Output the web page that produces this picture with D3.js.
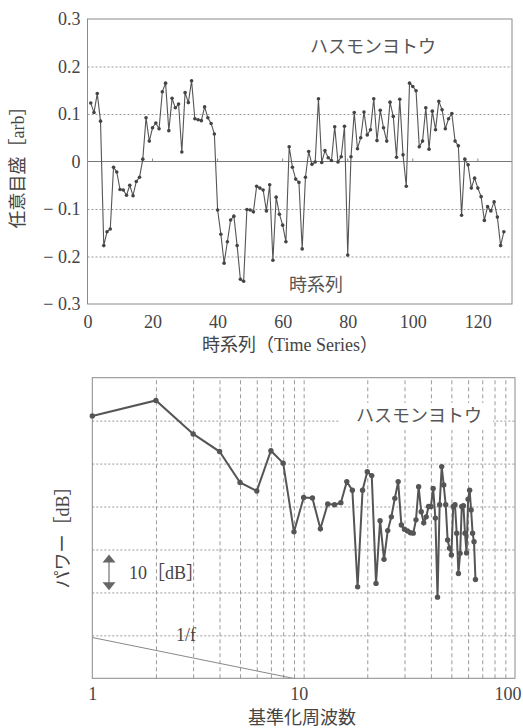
<!DOCTYPE html>
<html>
<head>
<meta charset="utf-8">
<script src="https://cdn.jsdelivr.net/npm/d3@7"></script>
<style>
    body { margin: 0; background: #fff; }
    svg { display: block; }
    text { fill: #444; font-family: "Liberation Serif", "Noto Sans CJK JP", serif; font-size: 18px; }
    .jp { font-family: "Noto Sans CJK JP", sans-serif; fill: #555; }
    .grid line { stroke: #9a9a9a; stroke-dasharray: 2, 2; }
    .vgrid line { stroke: #9a9a9a; stroke-dasharray: 4, 3; }
</style>
</head>
<body>
<svg id="chart" width="523" height="728"></svg>
<script>
// time series [arb], one value per sample (1, 2, 3 ...)
const seriesValues = [
    0.123, 0.103, 0.143, 0.085, -0.177, -0.148, -0.142, -0.012, -0.022, -0.059,
    -0.060, -0.071, -0.050, -0.072, -0.042, -0.033, 0.005, 0.092, 0.043, 0.071,
    0.081, 0.069, 0.147, 0.165, 0.065, 0.133, 0.113, 0.121, 0.020, 0.145,
    0.124, 0.170, 0.090, 0.088, 0.086, 0.115, 0.092, 0.080, 0.058, -0.102,
    -0.153, -0.214, -0.169, -0.123, -0.115, -0.177, -0.248, -0.252, -0.101,
    -0.102, -0.106, -0.052, -0.056, -0.060, -0.104, -0.049, -0.208, -0.075, -0.111,
    -0.134, -0.169, 0.031, -0.012, -0.037, -0.044, -0.184, -0.033, 0.021, -0.006,
    -0.001, 0.132, -0.002, 0.023, 0.008, 0.002, 0.073, -0.001, 0.010, 0.074,
    -0.197, 0.010, 0.103, 0.027, 0.050, 0.104, 0.056, 0.067, 0.132, 0.044,
    0.108, 0.071, 0.043, 0.125, 0.095, 0.009, 0.131, 0.014, -0.052, 0.165,
    0.158, 0.149, 0.031, 0.043, 0.113, 0.026, 0.106, 0.067, 0.127, 0.109,
    0.069, 0.090, 0.101, 0.043, 0.033, -0.113, 0.005, -0.007, -0.056, -0.035,
    -0.056, -0.074, -0.124, -0.095, -0.104, -0.085, -0.117, -0.177, -0.148
];
const xTickValues = [0, 20, 40, 60, 80, 100, 120];
const yTickValues = [0.3, 0.2, 0.1, 0, -0.1, -0.2, -0.3];
const yTickLabels = ["0.3", "0.2", "0.1", "0", "− 0.1", "− 0.2", "− 0.3"];

// power spectrum [dB], one value per normalized frequency (1, 2, 3 ...)
const spectrumDb = [
    -8.9, -5.3, -13.1, -17.2, -24.4, -26.4, -17.0, -19.9, -35.9, -27.9,
    -28.0, -35.2, -29.4, -29.6, -29.1, -24.2, -26.2, -48.7, -26.2, -21.9,
    -22.8, -47.9, -33.3, -42.3, -35.6, -32.4, -28.1, -24.2, -34.3, -35.3,
    -35.7, -36.1, -36.2, -33.1, -25.4, -31.2, -33.8, -32.4, -30.0, -30.0,
    -25.8, -32.7, -51.1, -29.6, -20.7, -25.0, -29.6, -37.8, -39.7, -41.3,
    -30.0, -29.6, -36.2, -45.6, -40.9, -30.0, -29.8, -36.2, -40.8, -28.3,
    -26.2, -30.8, -36.2, -38.2, -47.0
];
const freqTickValues = [1, 10, 100];
const dbGridValues = [-70, -60, -50, -40, -30, -20, -10, 0];
// reference 1/f slope: [frequency, dB]
const oneOverF = [[1, -60.5], [10, -70.5]];

const svg = d3.select('#chart');

// ---------- top chart: time series ----------
const tsBox = { left: 87.5, right: 512, top: 19, bottom: 304 };

const xScale = d3.scaleLinear()
    .domain([0, 130.5])
    .range([tsBox.left, tsBox.right]);

const yScale = d3.scaleLinear()
    .domain([-0.3, 0.3])
    .range([tsBox.bottom, tsBox.top]);

// dotted horizontal grid
svg.append('g')
    .attr('class', 'grid')
    .attr('transform', `translate(${tsBox.left}, 0)`)
    .call(d3.axisLeft(yScale)
        .tickValues(yTickValues.filter(v => v !== 0 && Math.abs(v) < 0.3))
        .tickSize(-(tsBox.right - tsBox.left))
        .tickFormat(''))
    .call(g => g.select('.domain').remove());

// zero line with small ticks
svg.append('line')
    .attr('x1', tsBox.left)
    .attr('x2', tsBox.right)
    .attr('y1', yScale(0))
    .attr('y2', yScale(0))
    .attr('stroke', '#777');

svg.append('g')
    .selectAll('line')
    .data(xTickValues.slice(1))
    .enter()
    .append('line')
    .attr('x1', d => xScale(d))
    .attr('x2', d => xScale(d))
    .attr('y1', yScale(0))
    .attr('y2', yScale(0) - 3)
    .attr('stroke', '#888');

svg.append('rect')
    .attr('x', tsBox.left)
    .attr('y', tsBox.top)
    .attr('width', tsBox.right - tsBox.left)
    .attr('height', tsBox.bottom - tsBox.top)
    .attr('fill', 'none')
    .attr('stroke', '#8a8a8a');

// axes labels
svg.append('g')
    .attr('transform', `translate(${tsBox.left}, 0)`)
    .call(d3.axisLeft(yScale)
        .tickValues(yTickValues)
        .tickFormat((d, i) => yTickLabels[i])
        .tickSize(0)
        .tickPadding(7))
    .call(g => g.select('.domain').remove());

svg.append('g')
    .attr('transform', `translate(0, ${tsBox.bottom})`)
    .call(d3.axisBottom(xScale)
        .tickValues(xTickValues)
        .tickSize(0)
        .tickPadding(11))
    .call(g => g.select('.domain').remove());

// series
const tsLine = d3.line()
    .x((d, i) => xScale(i + 1))
    .y(d => yScale(d));

svg.append('path')
    .datum(seriesValues)
    .attr('d', tsLine)
    .attr('fill', 'none')
    .attr('stroke', '#555')
    .attr('stroke-width', 1.1);

svg.append('g')
    .selectAll('circle')
    .data(seriesValues)
    .enter()
    .append('circle')
    .attr('cx', (d, i) => xScale(i + 1))
    .attr('cy', d => yScale(d))
    .attr('r', 1.8)
    .attr('fill', '#444');

svg.append('text')
    .attr('class', 'jp')
    .attr('x', 373)
    .attr('y', 47)
    .attr('dy', '0.36em')
    .attr('text-anchor', 'middle')
    .text('ハスモンヨトウ');

svg.append('text')
    .attr('class', 'jp')
    .attr('x', 316)
    .attr('y', 285)
    .attr('dy', '0.36em')
    .attr('text-anchor', 'middle')
    .text('時系列');

svg.append('text')
    .attr('x', 290)
    .attr('y', 345)
    .attr('dy', '0.36em')
    .attr('text-anchor', 'middle')
    .text('時系列（Time Series）');

svg.append('text')
    .attr('transform', 'translate(18, 163) rotate(-90)')
    .attr('dy', '0.36em')
    .attr('text-anchor', 'middle')
    .text('任意目盛［arb］');

// ---------- bottom chart: power spectrum ----------
const psBox = { left: 92.3, right: 515, top: 377.7, bottom: 678.3 };

const fScale = d3.scaleLog()
    .domain([1, 100])
    .range([psBox.left, psBox.right]);

const dbScale = d3.scaleLinear()
    .domain([-70, 0])
    .range([psBox.bottom, psBox.top]);

svg.append('defs')
    .append('clipPath')
    .attr('id', 'psClip')
    .append('rect')
    .attr('x', psBox.left)
    .attr('y', psBox.top)
    .attr('width', psBox.right - psBox.left)
    .attr('height', psBox.bottom - psBox.top);

// grid
svg.append('g')
    .attr('class', 'vgrid')
    .attr('transform', `translate(0, ${psBox.bottom})`)
    .call(d3.axisBottom(fScale)
        .tickValues(fScale.ticks().filter(d => d > 1 && d < 100))
        .tickSize(-(psBox.bottom - psBox.top))
        .tickFormat(''))
    .call(g => g.select('.domain').remove());

svg.append('g')
    .attr('class', 'grid')
    .attr('transform', `translate(${psBox.left}, 0)`)
    .call(d3.axisLeft(dbScale)
        .tickValues(dbGridValues.filter(v => v > -70 && v < 0))
        .tickSize(-(psBox.right - psBox.left))
        .tickFormat(''))
    .call(g => g.select('.domain').remove());

svg.append('rect')
    .attr('x', psBox.left)
    .attr('y', psBox.top)
    .attr('width', psBox.right - psBox.left)
    .attr('height', psBox.bottom - psBox.top)
    .attr('fill', 'none')
    .attr('stroke', '#8a8a8a');

// frequency labels
svg.append('g')
    .attr('transform', `translate(0, ${psBox.bottom})`)
    .call(d3.axisBottom(fScale)
        .tickValues(freqTickValues)
        .tickFormat(d3.format('d'))
        .tickSize(0)
        .tickPadding(9))
    .call(g => g.select('.domain').remove())
    .call(g => g.selectAll('.tick text')
        .attr('dx', d => d === 10 ? -5 : 0)
        .attr('text-anchor', d => d === 100 ? 'end' : 'middle')
        .attr('x', d => d === 100 ? 6 : 0));

// 1/f reference
svg.append('path')
    .datum(oneOverF)
    .attr('clip-path', 'url(#psClip)')
    .attr('d', d3.line().x(d => fScale(d[0])).y(d => dbScale(d[1])))
    .attr('fill', 'none')
    .attr('stroke', '#888')
    .attr('stroke-width', 1);

svg.append('text')
    .attr('x', 186)
    .attr('y', 635)
    .attr('dy', '0.33em')
    .attr('text-anchor', 'middle')
    .text('1/f');

// spectrum
const psLine = d3.line()
    .x((d, i) => fScale(i + 1))
    .y(d => dbScale(d));

svg.append('path')
    .datum(spectrumDb)
    .attr('d', psLine)
    .attr('fill', 'none')
    .attr('stroke', '#555')
    .attr('stroke-width', 2);

svg.append('g')
    .selectAll('circle')
    .data(spectrumDb)
    .enter()
    .append('circle')
    .attr('cx', (d, i) => fScale(i + 1))
    .attr('cy', d => dbScale(d))
    .attr('r', 2.7)
    .attr('fill', '#555');

// label with white backing over the grid
svg.append('rect')
    .attr('x', 340)
    .attr('y', 403)
    .attr('width', 153)
    .attr('height', 27)
    .attr('fill', '#fff');

svg.append('text')
    .attr('class', 'jp')
    .attr('x', 419)
    .attr('y', 416)
    .attr('dy', '0.36em')
    .attr('text-anchor', 'middle')
    .text('ハスモンヨトウ');

// 10 dB scale arrow
const arrowX = 109;
const arrowTop = dbScale(-41.2);
const arrowBottom = dbScale(-49.5);

svg.append('line')
    .attr('x1', arrowX)
    .attr('x2', arrowX)
    .attr('y1', arrowTop + 6)
    .attr('y2', arrowBottom - 6)
    .attr('stroke', '#aaa')
    .attr('stroke-width', 2);

svg.append('path')
    .attr('d', `M${arrowX},${arrowTop} L${arrowX + 6.5},${arrowTop + 8} L${arrowX - 6.5},${arrowTop + 8} Z`)
    .attr('fill', '#666');

svg.append('path')
    .attr('d', `M${arrowX},${arrowBottom} L${arrowX + 6.5},${arrowBottom - 8} L${arrowX - 6.5},${arrowBottom - 8} Z`)
    .attr('fill', '#666');

svg.append('text')
    .attr('x', 129)
    .attr('y', (arrowTop + arrowBottom) / 2)
    .attr('dy', '0.36em')
    .text('10［dB］');

svg.append('text')
    .attr('x', 302)
    .attr('y', 718)
    .attr('dy', '0.36em')
    .attr('text-anchor', 'middle')
    .text('基準化周波数');

svg.append('text')
    .attr('transform', 'translate(63, 533) rotate(-90)')
    .attr('dy', '0.36em')
    .attr('text-anchor', 'middle')
    .text('パワー［dB］');
</script>
</body>
</html>
